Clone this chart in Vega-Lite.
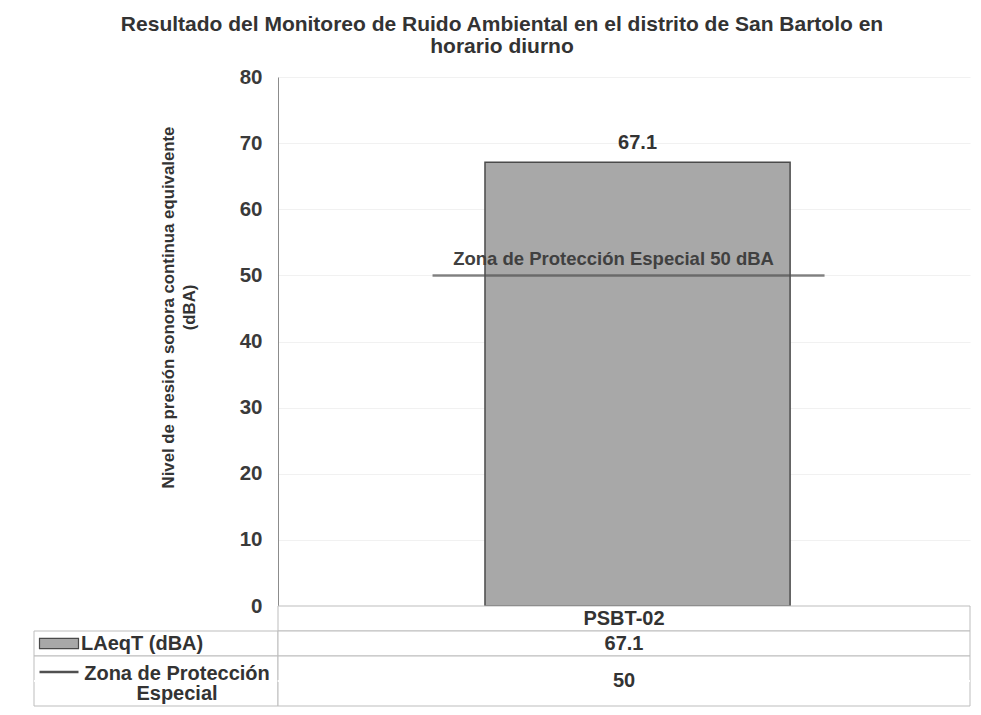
{
  "$schema": "https://vega.github.io/schema/vega-lite/v6.json",
  "background": "white",
  "padding": {"left": 33, "top": 14, "right": 12, "bottom": 7},
  "config": {"view": {"stroke": null}, "font": "Liberation Sans"},
  "title": {
    "text": ["Resultado del Monitoreo de Ruido Ambiental en el distrito de San Bartolo en", "horario diurno"],
    "font": "Liberation Sans",
    "fontSize": 21,
    "fontWeight": "bold",
    "color": "#333333",
    "lineHeight": 22,
    "anchor": "middle",
    "offset": 10
  },
  "datasets": {
    "medicion": [
      {"estacion": "PSBT-02", "LAeqT": 67.1, "ECA": 50, "ECA_texto": "Zona de Protección Especial 50 dBA"}
    ],
    "tabla": [
      {"fila": "1", "etiqueta": "", "valor": "PSBT-02", "simbolo": ""},
      {"fila": "2", "etiqueta": "LAeqT (dBA)", "valor": "67.1", "simbolo": "barra"},
      {"fila": "3", "etiqueta": "Zona de Protección\nEspecial", "valor": "50", "simbolo": "linea"}
    ]
  },
  "bounds": "flush",
  "spacing": 0,
  "hconcat": [
    {
      "width": 244,
      "height": 629,
      "data": {"name": "tabla"},
      "transform": [{"filter": "datum.etiqueta != ''"}],
      "layer": [
        {
          "mark": {"type": "rect", "fill": "white", "stroke": "#bdbdbd", "strokeWidth": 1},
          "encoding": {
            "y": {"field": "fila", "type": "nominal", "axis": null,
                  "scale": {"domain": ["1", "2", "3", "3b"], "range": [529, 629], "paddingInner": 0, "paddingOuter": 0}}
          }
        },
        {
          "transform": [{"filter": "datum.fila == '3'"}],
          "mark": {"type": "rect", "fill": "white", "stroke": "#bdbdbd", "strokeWidth": 1},
          "encoding": {"y": {"datum": "3b", "type": "nominal"}}
        },
        {
          "transform": [{"filter": "datum.fila == '3'"}],
          "mark": {"type": "rule", "color": "white", "strokeWidth": 2},
          "encoding": {"y": {"field": "fila", "type": "nominal", "bandPosition": 1}}
        },
        {
          "transform": [{"filter": "datum.fila == '2'"}],
          "mark": {"type": "text", "align": "left", "dx": -75, "fontSize": 20, "fontWeight": "bold", "color": "#333333"},
          "encoding": {
            "y": {"field": "fila", "type": "nominal", "bandPosition": 0.5},
            "text": {"field": "etiqueta", "type": "nominal"}
          }
        },
        {
          "transform": [{"filter": "datum.fila == '3'"}],
          "mark": {"type": "text", "align": "center", "dx": 21, "dy": -7, "fontSize": 20, "fontWeight": "bold", "color": "#333333", "lineBreak": "\n", "lineHeight": 20},
          "encoding": {
            "y": {"field": "fila", "type": "nominal", "bandPosition": 1},
            "text": {"field": "etiqueta", "type": "nominal"}
          }
        },
        {
          "transform": [{"filter": "datum.simbolo == 'barra'"}],
          "mark": {"type": "point", "shape": "M-1,-0.26L1,-0.26L1,0.26L-1,0.26Z", "size": 1521, "filled": true, "fill": "#a8a8a8", "stroke": "#4a4a4a", "strokeWidth": 1.2, "opacity": 1, "xOffset": -97},
          "encoding": {"y": {"field": "fila", "type": "nominal", "bandPosition": 0.5}}
        },
        {
          "transform": [{"filter": "datum.simbolo == 'linea'"}],
          "mark": {"type": "point", "shape": "M-1,0L1,0", "size": 1521, "filled": false, "stroke": "#505050", "strokeWidth": 2.5, "opacity": 1, "xOffset": -97, "yOffset": -9},
          "encoding": {"y": {"field": "fila", "type": "nominal", "bandPosition": 1}}
        }
      ]
    },
    {
      "width": 692,
      "height": 629,
      "layer": [
        {
          "data": {"name": "medicion"},
          "encoding": {
            "x": {"field": "estacion", "type": "nominal", "axis": null,
                  "scale": {"paddingInner": 0, "paddingOuter": 0.634, "align": 0.535}}
          },
          "layer": [
            {
              "mark": {"type": "bar", "fill": "#a8a8a8", "stroke": "#4a4a4a", "strokeWidth": 1.5},
              "encoding": {
                "y": {
                  "field": "LAeqT", "type": "quantitative",
                  "scale": {"domain": [0, 80], "nice": false, "range": [529, 0]},
                  "axis": {
                    "title": ["Nivel de presión sonora continua equivalente", "(dBA)"],
                    "titleFont": "Liberation Sans",
                    "titleFontSize": 16.8,
                    "titleFontWeight": "bold",
                    "titleColor": "#333333",
                    "titleLineHeight": 21,
                    "titlePadding": 41,
                    "titleY": 230,
                    "labelFont": "Liberation Sans",
                    "labelFontSize": 20.5,
                    "labelFontWeight": "bold",
                    "labelColor": "#3a3a3a",
                    "labelPadding": 16,
                    "ticks": false,
                    "tickCount": 8,
                    "domainColor": "#8c8c8c",
                    "domainWidth": 1,
                    "gridColor": "#f1f1f1",
                    "gridWidth": 1
                  }
                }
              }
            },
            {
              "mark": {"type": "text", "baseline": "bottom", "dy": -9, "fontSize": 20, "fontWeight": "bold", "color": "#333333"},
              "encoding": {
                "y": {"field": "LAeqT", "type": "quantitative"},
                "text": {"field": "LAeqT", "type": "quantitative", "format": ".1f"}
              }
            },
            {
              "mark": {"type": "tick", "orient": "horizontal", "size": 392, "thickness": 2.5, "color": "#505050", "xOffset": -9},
              "encoding": {"y": {"field": "ECA", "type": "quantitative"}}
            },
            {
              "mark": {"type": "text", "baseline": "bottom", "dy": -6, "dx": -24, "fontSize": 18.5, "fontWeight": "bold", "color": "#404040"},
              "encoding": {
                "y": {"field": "ECA", "type": "quantitative"},
                "text": {"field": "ECA_texto", "type": "nominal"}
              }
            }
          ]
        },
        {
          "data": {"name": "tabla"},
          "encoding": {
            "y": {"field": "fila", "type": "nominal", "axis": null,
                  "scale": {"domain": ["1", "2", "3", "3b"], "range": [529, 629], "paddingInner": 0, "paddingOuter": 0}}
          },
          "layer": [
            {"mark": {"type": "rect", "fill": "white", "stroke": "#bdbdbd", "strokeWidth": 1}},
            {
              "transform": [{"filter": "datum.fila == '3'"}],
              "mark": {"type": "rect", "fill": "white", "stroke": "#bdbdbd", "strokeWidth": 1},
              "encoding": {"y": {"datum": "3b", "type": "nominal"}}
            },
            {
              "transform": [{"filter": "datum.fila == '3'"}],
              "mark": {"type": "rule", "color": "white", "strokeWidth": 2},
              "encoding": {"y": {"field": "fila", "type": "nominal", "bandPosition": 1}}
            },
            {
              "transform": [{"filter": "datum.fila != '3'"}],
              "mark": {"type": "text", "fontSize": 20, "fontWeight": "bold", "color": "#333333"},
              "encoding": {"text": {"field": "valor", "type": "nominal"}}
            },
            {
              "transform": [{"filter": "datum.fila == '3'"}],
              "mark": {"type": "text", "fontSize": 20, "fontWeight": "bold", "color": "#333333"},
              "encoding": {
                "y": {"field": "fila", "type": "nominal", "bandPosition": 1},
                "text": {"field": "valor", "type": "nominal"}
              }
            }
          ]
        }
      ],
      "resolve": {"scale": {"y": "independent"}, "axis": {"y": "independent"}}
    }
  ]
}
